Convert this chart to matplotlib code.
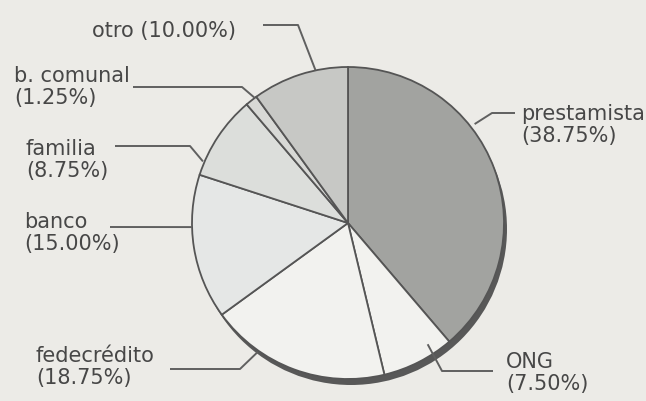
import numpy as np
import matplotlib.pyplot as plt
from matplotlib.patches import Circle

# fuentes de crédito (porcentajes)
labels = ["prestamista", "ONG", "fedecrédito", "banco", "familia", "b. comunal", "otro"]
shares = [38.75, 7.50, 18.75, 15.00, 8.75, 1.25, 10.00]
colors = ["#a2a3a0", "#f2f2ef", "#f2f2ef", "#e5e7e6", "#dcdedb", "#d8d9d6", "#c7c8c5"]

BG = "#ecebe7"
EDGE = "#555555"
TXT = "#474747"

W, H = 646, 401
CX, CY, R = 348, 223, 156   # pie centre / radius in pixels (y measured from the top)

# label layout: text top-left, leader end, elbow, anchor angle, anchor radius factor
layout = {
    "prestamista": ((521, 104), (515, 113), (492, 113), 38.0, 1.03),
    "ONG":         ((506, 352), (493, 371), (442, 371), -56.7, 0.93),
    "fedecrédito": ((36, 346), (170, 369), (240, 369), 235.0, 1.01),
    "banco":       ((24, 212), (110, 227), None, 181.5, 1.0),
    "familia":     ((26, 139), (115, 146), (190, 146), 157.0, 1.01),
    "b. comunal":  ((14, 66), (133, 87), (242, 87), 126.7, 1.0),
    "otro":        ((92, 21), (263, 25), (298, 25), 102.0, 1.0),
}


def py(y):
    return H - y


fig = plt.figure(figsize=(W / 100, H / 100), dpi=100, facecolor=BG)
ax = fig.add_axes([0, 0, 1, 1])
ax.set_facecolor(BG)

# drop shadow under the pie
ax.add_patch(Circle((CX + 3, py(CY) - 6), R, facecolor="#585858", edgecolor="none", zorder=0))

ax.pie(shares, colors=colors, startangle=90, counterclock=False,
       center=(CX, py(CY)), radius=R,
       wedgeprops=dict(edgecolor=EDGE, linewidth=1.3))

for name, val in zip(labels, shares):
    (tx, ty), end, elbow, ang, rf = layout[name]
    a = np.deg2rad(ang)
    anchor = (CX + R * rf * np.cos(a), py(CY) + R * rf * np.sin(a))
    xs = [end[0]] + ([elbow[0]] if elbow else []) + [anchor[0]]
    ys = [py(end[1])] + ([py(elbow[1])] if elbow else []) + [anchor[1]]
    ax.plot(xs, ys, color="#606060", lw=1.4, solid_capstyle="butt", zorder=5)

    if name == "otro":
        s = f"{name} ({val:.2f}%)"
    else:
        s = f"{name}\n({val:.2f}%)"
    ax.text(tx, py(ty), s, ha="left", va="top", fontsize=15, color=TXT,
            family="DejaVu Sans", linespacing=1.13)

ax.set_xlim(0, W)
ax.set_ylim(0, H)
ax.set_aspect("equal")
ax.axis("off")

fig.savefig("out.png", dpi=100, facecolor=BG)
